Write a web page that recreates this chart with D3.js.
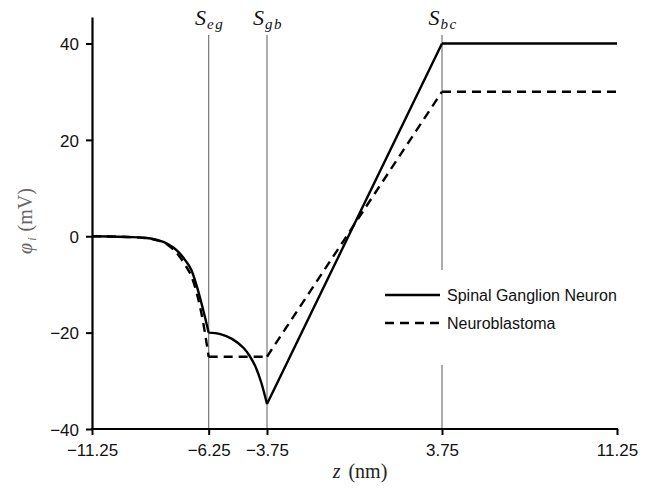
<!DOCTYPE html>
<html>
<head>
<meta charset="utf-8">
<script src="https://cdn.jsdelivr.net/npm/d3@7"></script>
<style>
  body { margin: 0; background: #fff; }
  .tick text { font-family: "Liberation Sans", Arial, sans-serif; font-size: 17px; }
</style>
</head>
<body>
<svg id="drawing_region"></svg>
<script>
// z positions (nm) and potential (mV)
const zSolid   = [-11.25, -10.5, -9.75, -9, -8.5, -8, -7.75, -7.5, -7.25, -7, -6.75, -6.5, -6.25,
                  -5.75, -5.25, -4.75, -4.5, -4.25, -4, -3.75, 3.75, 11.25];
const phiSolid = [0, -0.05, -0.15, -0.3, -0.7, -1.6, -2.4, -3.5, -5, -6.9, -10.5, -15, -20,
                  -20.3, -21.3, -23.2, -24.8, -27, -30.3, -34.8, 40, 40];

const zDashed   = [-11.25, -10.5, -9.75, -9, -8.5, -8, -7.75, -7.5, -7.25, -7, -6.75, -6.5, -6.25,
                   -3.75, 3.75, 11.25];
const phiDashed = [0, -0.05, -0.15, -0.35, -0.8, -1.8, -2.8, -4.2, -6, -8.2, -12, -17.5, -25,
                   -25, 30, 30];

// membrane boundaries (kinks in the curves)
const boundaries = [-6.25, -3.75, 3.75];
const boundaryNames = [["S", "eg"], ["S", "gb"], ["S", "bc"]];

const xTicks = [-11.25, -6.25, -3.75, 3.75, 11.25];
const yTicks = [-40, -20, 0, 20, 40];

const seriesNames = ["Spinal Ganglion Neuron", "Neuroblastoma"];

class PotentialChart {
    constructor( config ) {
        this.config = {
            parent: config.parent,
            width: config.width || 655,
            height: config.height || 492,
        };
        this.init();
    }

    init() {
        let self = this;

        self.svg = d3.select(self.config.parent)
            .attr('width', self.config.width)
            .attr('height', self.config.height);

        self.xscale = d3.scaleLinear()
            .domain([-11.25, 11.25])
            .range([92, 617]);
        self.yscale = d3.scaleLinear()
            .domain([-40, 45.5])
            .range([429, 17]);

        self.line = d3.line()
            .x(d => self.xscale(d[0]))
            .y(d => self.yscale(d[1]))
            .curve(d3.curveMonotoneX);
    }

    // split a series at the boundaries so corners stay sharp
    pieces( zs, phis ) {
        const pts = zs.map((z, i) => [z, phis[i]]);
        const out = [];
        let cur = [];
        pts.forEach(p => {
            cur.push(p);
            if (boundaries.includes(p[0]) && cur.length > 1) {
                out.push(cur);
                cur = [p];
            }
        });
        if (cur.length > 1) out.push(cur);
        return out;
    }

    render() {
        let self = this;
        const fmt = d => d3.format(".2~f")(d).replace("-", "\u2212");

        // boundary lines
        self.svg.append('g').selectAll('line')
            .data(boundaries)
            .join('line')
            .attr('x1', d => self.xscale(d))
            .attr('x2', d => self.xscale(d))
            .attr('y1', 35)
            .attr('y2', self.yscale(-40))
            .attr('stroke', '#777')
            .attr('stroke-width', 1.2);

        const lab = self.svg.append('g').selectAll('text')
            .data(boundaries)
            .join('text')
            .attr('x', (d, i) => self.xscale(d) + 1)
            .attr('y', 25)
            .attr('text-anchor', 'middle')
            .attr('font-family', '"Liberation Serif", serif')
            .attr('font-style', 'italic')
            .attr('fill', '#111');
        lab.append('tspan').attr('font-size', 22).text((d, i) => boundaryNames[i][0]);
        lab.append('tspan').attr('font-size', 15).attr('dy', 4).attr('dx', 1)
            .attr('letter-spacing', 1.5)
            .text((d, i) => boundaryNames[i][1]);

        // curves
        const solidD = self.pieces(zSolid, phiSolid).map(p => self.line(p)).join('');
        const dashD = self.pieces(zDashed, phiDashed).map(p => self.line(p)).join('');

        self.svg.append('path')
            .attr('d', dashD)
            .attr('fill', 'none')
            .attr('stroke', '#000')
            .attr('stroke-width', 2.4)
            .attr('stroke-dasharray', '9,6');

        self.svg.append('path')
            .attr('d', solidD)
            .attr('fill', 'none')
            .attr('stroke', '#000')
            .attr('stroke-width', 2.4);

        // axes
        self.xaxis = d3.axisBottom(self.xscale)
            .tickValues(xTicks)
            .tickSizeInner(6)
            .tickSizeOuter(0)
            .tickPadding(9)
            .tickFormat(fmt);
        self.yaxis = d3.axisLeft(self.yscale)
            .tickValues(yTicks)
            .tickSizeInner(6)
            .tickSizeOuter(0)
            .tickPadding(7)
            .tickFormat(fmt);

        const xg = self.svg.append('g')
            .attr('transform', `translate(0, ${self.yscale(-40)})`)
            .call(self.xaxis);
        const yg = self.svg.append('g')
            .attr('transform', `translate(${self.xscale(-11.25)}, 0)`)
            .call(self.yaxis);
        [xg, yg].forEach(g => {
            g.select('.domain').attr('stroke-width', 2.2);
            g.selectAll('.tick line').attr('stroke-width', 2);
            g.selectAll('.tick text').attr('fill', '#111');
        });
        xg.select('.domain').attr('d', `M${self.xscale(-11.25) - 1},0H${self.xscale(11.25) + 1}`);
        yg.selectAll('.tick text').attr('dy', '0.36em');

        // axis titles
        const xt = self.svg.append('text')
            .attr('x', 360)
            .attr('y', 478)
            .attr('text-anchor', 'middle')
            .attr('font-family', '"Liberation Serif", serif')
            .attr('font-size', 20)
            .attr('fill', '#222');
        xt.append('tspan').attr('font-style', 'italic').text('z');
        xt.append('tspan').attr('dx', 8).text('(nm)');

        const yt = self.svg.append('text')
            .attr('transform', 'translate(32, 221) rotate(-90)')
            .attr('text-anchor', 'middle')
            .attr('font-family', '"Liberation Serif", serif')
            .attr('font-size', 20)
            .attr('fill', '#666');
        yt.append('tspan').attr('font-style', 'italic').text('\u03c6');
        yt.append('tspan').attr('font-style', 'italic').attr('font-size', 12).attr('dy', 4).attr('dx', 2).text('i');
        yt.append('tspan').attr('dy', -4).attr('dx', 6).text('(mV)');

        // legend
        const lg = self.svg.append('g');
        lg.append('rect')
            .attr('x', 378).attr('y', 270)
            .attr('width', 244).attr('height', 95)
            .attr('fill', '#fff');
        const rows = lg.selectAll('g')
            .data(seriesNames)
            .join('g')
            .attr('transform', (d, i) => `translate(0, ${295 + i * 28})`);
        rows.append('line')
            .attr('x1', 385).attr('x2', 440)
            .attr('stroke', '#000')
            .attr('stroke-width', 2.4)
            .attr('stroke-dasharray', (d, i) => i ? '9,6' : null);
        rows.append('text')
            .attr('x', 447)
            .attr('dy', '0.35em')
            .attr('font-family', '"Liberation Sans", Arial, sans-serif')
            .attr('font-size', 16)
            .attr('fill', '#111')
            .text(d => d);
    }
}

const chart = new PotentialChart({ parent: '#drawing_region', width: 655, height: 492 });
chart.render();
</script>
</body>
</html>
